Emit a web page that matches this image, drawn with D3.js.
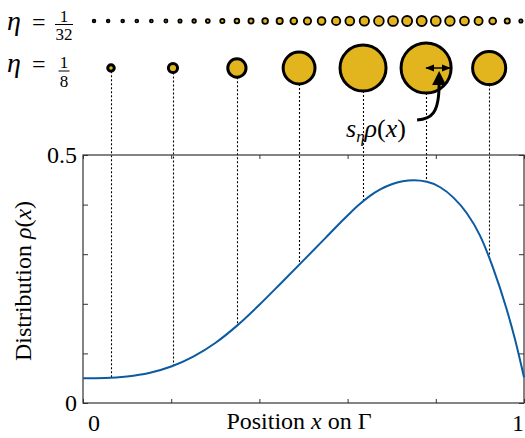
<!DOCTYPE html>
<html><head><meta charset="utf-8">
<script src="https://cdn.jsdelivr.net/npm/d3@7"></script>
<style>body{margin:0;background:#fff}svg{display:block}</style>
</head><body><svg id="c" width="525" height="438"></svg>
<script>
// ---- data ----
const curveX   = [0, 0.05, 0.10, 0.15, 0.20, 0.25, 0.30, 0.35, 0.40, 0.45, 0.50, 0.55, 0.575, 0.60, 0.625, 0.65, 0.675, 0.70, 0.725, 0.75, 0.78, 0.81, 0.84, 0.87, 0.90, 0.93, 0.96, 0.98, 1.0];
const curveRho = [0.050, 0.0505, 0.0535, 0.0605, 0.0735, 0.0935, 0.121, 0.1565, 0.198, 0.2425, 0.2875, 0.333, 0.356, 0.378, 0.399, 0.417, 0.431, 0.441, 0.447, 0.449, 0.446, 0.435, 0.414, 0.383, 0.338, 0.272, 0.191, 0.127, 0.052];

const coarseX   = [0.0635, 0.204, 0.349, 0.490, 0.635, 0.778, 0.921];
const coarseRho = [0.0503, 0.0745, 0.157, 0.2805, 0.409, 0.446, 0.292];

const fineX   = [0.025, 0.057, 0.090, 0.122, 0.155, 0.188, 0.220, 0.252, 0.283, 0.316, 0.349, 0.381, 0.413, 0.446, 0.478, 0.509, 0.541, 0.574, 0.605, 0.638, 0.671, 0.703, 0.735, 0.768, 0.800, 0.832, 0.865, 0.897, 0.929, 0.962, 0.993];
const fineRho = [0.050, 0.051, 0.053, 0.056, 0.061, 0.070, 0.0815, 0.0945, 0.111, 0.133, 0.157, 0.183, 0.211, 0.241, 0.270, 0.2975, 0.3265, 0.356, 0.3835, 0.4105, 0.430, 0.4425, 0.448, 0.448, 0.439, 0.421, 0.388, 0.343, 0.274, 0.185, 0.080];

const xTicks = [0, 0.2, 0.4, 0.6, 0.8, 1];
const yTicks = [0, 0.1, 0.2, 0.3, 0.4, 0.5];
const xTickLabels = ["0", "1"];
const yTickLabels = ["0", "0.5"];
const annotIndex = 5;

// ---- drawing ----
const FONT = "'Liberation Serif','Times New Roman','DejaVu Serif',serif";
const svg = d3.select("#c").attr("font-family", FONT);
const x = d3.scaleLinear().domain([0, 1]).range([83, 524]);
const y = d3.scaleLinear().domain([0, 0.5]).range([403, 155]);
const rCoarse = d3.scaleLinear().domain([0, 0.5]).range([0.5, 28]);
const rFine = d3.scaleLinear().domain([0, 0.5]).range([0.9, 5.5]);
const gold = "#E2B41E";
const rowFineY = 21, rowCoarseY = 68;

function T(sel){ return sel.append("text").attr("font-family", FONT).attr("fill","#000"); }

// axes (inward ticks, no labels)
const axCol = "#333";
function styleAx(g){ g.select(".domain").remove(); g.selectAll("line").attr("stroke", axCol); g.selectAll("text").remove(); }
svg.append("g").attr("transform","translate(0,403)").call(d3.axisBottom(x).tickValues(xTicks).tickSize(-4)).call(styleAx);
svg.append("g").attr("transform","translate(0,155)").call(d3.axisTop(x).tickValues(xTicks).tickSize(-4)).call(styleAx);
svg.append("g").attr("transform","translate(83,0)").call(d3.axisLeft(y).tickValues(yTicks).tickSize(-5)).call(styleAx);
svg.append("g").attr("transform","translate(524,0)").call(d3.axisRight(y).tickValues(yTicks).tickSize(-5)).call(styleAx);

// dotted connectors
const coarse = coarseX.map((v,i)=>({x:v, rho:coarseRho[i]}));
svg.append("g").selectAll("line").data(coarse).join("line")
  .attr("x1", d=>Math.round(x(d.x))+0.5).attr("x2", d=>Math.round(x(d.x))+0.5)
  .attr("y1", d=>rowCoarseY + rCoarse(d.rho)).attr("y2", d=>y(d.rho))
  .attr("stroke","#000").attr("stroke-width",1.1).attr("stroke-dasharray","2,2");

// frame
svg.append("rect").attr("x",83).attr("y",155).attr("width",441).attr("height",248)
  .attr("fill","none").attr("stroke",axCol).attr("stroke-width",1.2);

// curve
const pts = curveX.map((v,i)=>[v, curveRho[i]]);
svg.append("path").datum(pts)
  .attr("d", d3.line().x(d=>x(d[0])).y(d=>y(d[1])).curve(d3.curveMonotoneX))
  .attr("fill","none").attr("stroke","#0B5AA2").attr("stroke-width",2);

// circles
svg.append("g").selectAll("circle").data(coarse).join("circle")
  .attr("cx", d=>x(d.x)).attr("cy", rowCoarseY).attr("r", d=>rCoarse(d.rho))
  .attr("fill", gold).attr("stroke","#000").attr("stroke-width",3);
const fine = fineX.map((v,i)=>({x:v, rho:fineRho[i]}));
svg.append("g").selectAll("circle").data(fine).join("circle")
  .attr("cx", d=>x(d.x)).attr("cy", rowFineY).attr("r", d=>rFine(d.rho))
  .attr("fill", gold).attr("stroke","#000").attr("stroke-width",1.8);

// tick labels
T(svg).attr("x", x(0)+5).attr("y", 431).attr("font-size",24).text(xTickLabels[0]);
T(svg).attr("x", x(1)).attr("y", 431).attr("font-size",24).attr("text-anchor","end").text(xTickLabels[1]);
T(svg).attr("x", 77).attr("y", y(0)+8).attr("font-size",24).attr("text-anchor","end").text(yTickLabels[0]);
T(svg).attr("x", 77).attr("y", y(0.5)+8).attr("font-size",24).attr("text-anchor","end").text(yTickLabels[1]);

// axis titles
const xt = T(svg).attr("x",299).attr("y",429).attr("font-size",24).attr("text-anchor","middle");
xt.append("tspan").text("Position ");
xt.append("tspan").attr("font-style","italic").text("x");
xt.append("tspan").text(" on Γ");
const yt = T(svg).attr("transform","translate(31,281) rotate(-90)").attr("font-size",24).attr("text-anchor","middle");
yt.append("tspan").text("Distribution ");
yt.append("tspan").attr("font-style","italic").text("ρ");
yt.append("tspan").text("(");
yt.append("tspan").attr("font-style","italic").text("x");
yt.append("tspan").text(")");

// eta labels
function etaLabel(base, num, den, numBase, denBase, barY){
  T(svg).attr("x",7).attr("y",base).attr("font-size",28).attr("font-style","italic").text("η");
  T(svg).attr("x",32).attr("y",base).attr("font-size",24).text("=");
  T(svg).attr("x",64).attr("y",numBase).attr("font-size",17).attr("text-anchor","middle").text(num);
  T(svg).attr("x",64).attr("y",denBase).attr("font-size",17).attr("text-anchor","middle").text(den);
  const w = den.length>1 ? 9 : 5.5;
  svg.append("line").attr("x1",64-w).attr("x2",64+w).attr("y1",barY).attr("y2",barY).attr("stroke","#000").attr("stroke-width",1);
}
etaLabel(30, "1", "32", 22, 40, 24.5);
etaLabel(72, "1", "8", 68, 87, 71);

// annotation: radius arrow
const a = coarse[annotIndex];
const ax0 = x(a.x), ax1 = x(a.x) + rCoarse(a.rho) - 1;
const defs = svg.append("defs");
defs.append("marker").attr("id","ah").attr("viewBox","0 0 10 10").attr("refX",9).attr("refY",5)
  .attr("markerWidth",6).attr("markerHeight",6).attr("orient","auto-start-reverse")
  .append("path").attr("d","M0,1 L10,5 L0,9 Z").attr("fill","#000");
svg.append("line").attr("x1",ax0).attr("x2",ax1).attr("y1",rowCoarseY).attr("y2",rowCoarseY)
  .attr("stroke","#000").attr("stroke-width",1.5)
  .attr("marker-start","url(#ah)").attr("marker-end","url(#ah)");
// curved pointer
const tipX = ax0 + 13;
svg.append("path").attr("d",`M${tipX-22},120 C${tipX-8},119 ${tipX},114 ${tipX},84`)
  .attr("fill","none").attr("stroke","#000").attr("stroke-width",3);
svg.append("path").attr("d",`M${tipX},71 L${tipX+7},85 L${tipX-7},85 Z`).attr("fill","#000");
// label s_eta rho(x)
const lt = T(svg).attr("x",346).attr("y",137).attr("font-size",26);
lt.append("tspan").attr("font-style","italic").text("s");
lt.append("tspan").attr("font-style","italic").attr("font-size",17).attr("dy",5).text("η");
lt.append("tspan").attr("font-style","italic").attr("dy",-5).text("ρ");
lt.append("tspan").text("(");
lt.append("tspan").attr("font-style","italic").text("x");
lt.append("tspan").text(")");
</script></body></html>
